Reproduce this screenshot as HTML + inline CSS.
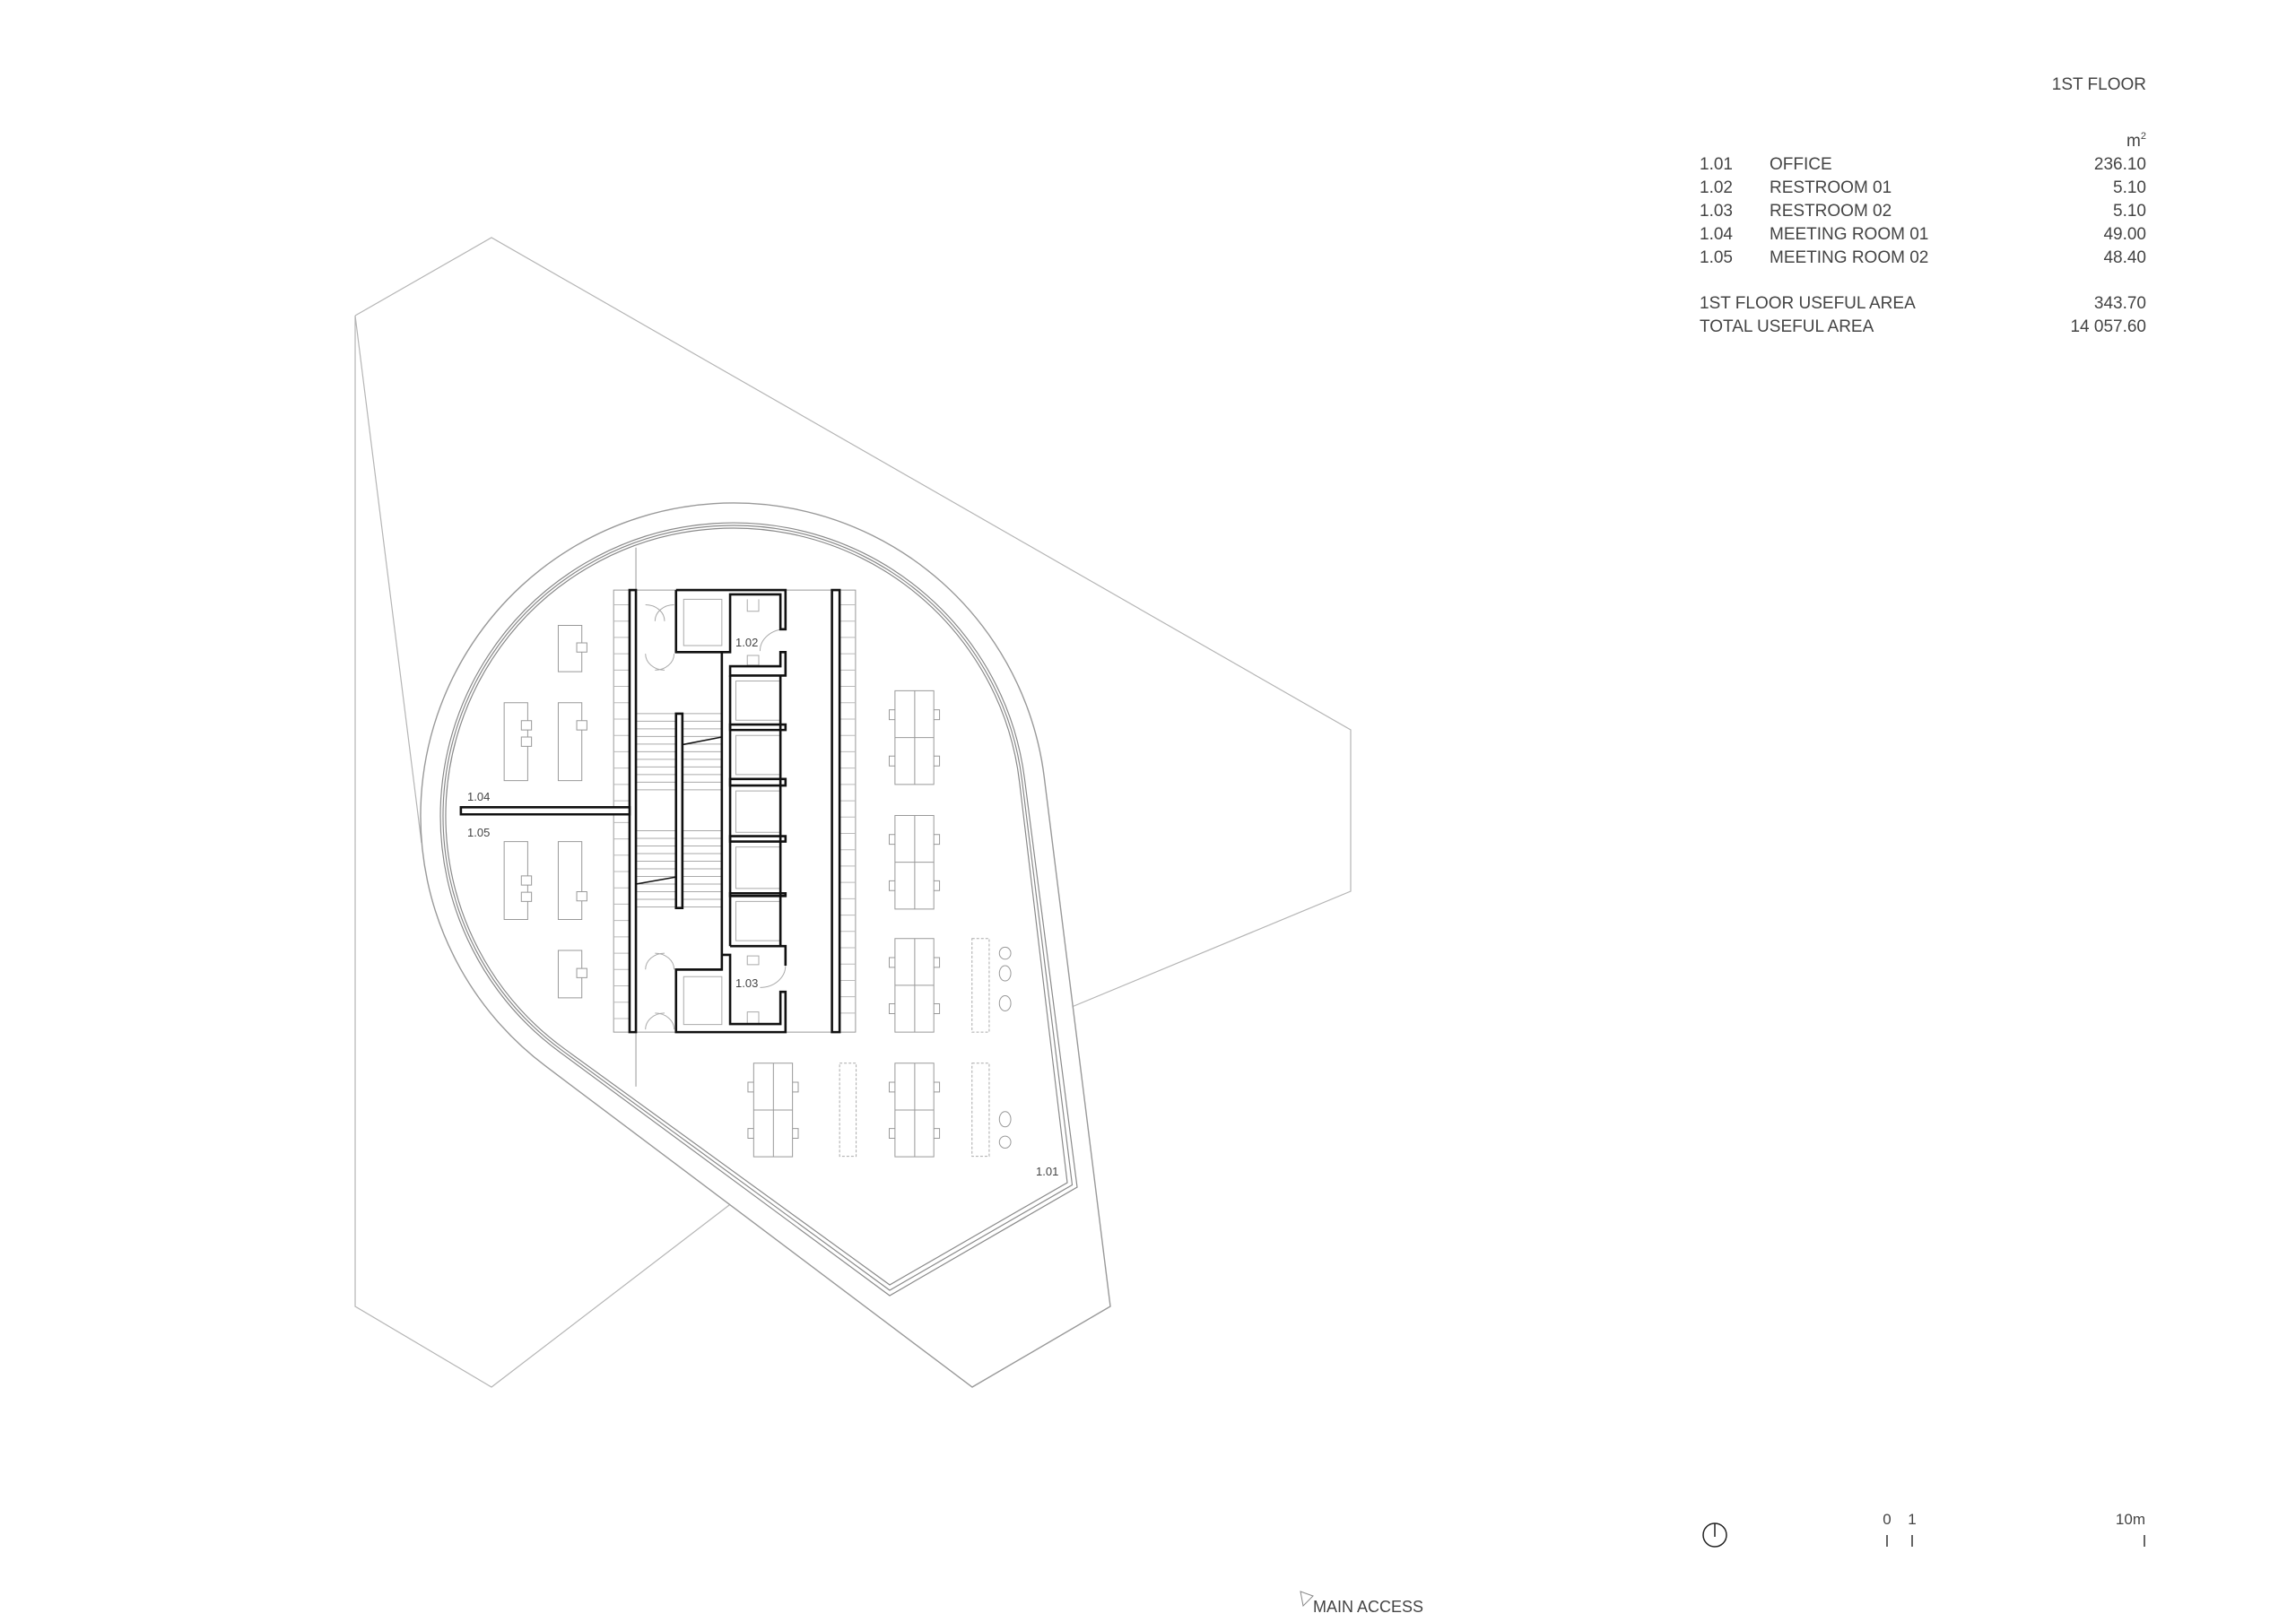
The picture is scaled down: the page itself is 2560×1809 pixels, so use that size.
<!DOCTYPE html>
<html><head><meta charset="utf-8"><style>
html,body{margin:0;padding:0;background:#fff;}
svg{display:block;}
text{font-family:"Liberation Sans",sans-serif;fill:#444;}
.t{font-size:19px;}
</style></head><body>
<svg width="2560" height="1809" viewBox="0 0 2560 1809" xmlns="http://www.w3.org/2000/svg">
<rect width="2560" height="1809" fill="#fff"/>
<!-- background site shape -->
<g stroke="#b5b5b5" stroke-width="1.2" fill="none">
<polyline points="396,352 548,265 1506,814 1506,994 1195,1123"/>
<polyline points="817,1341 548,1547 396,1457 396,352 470,940"/>
</g>
<!-- outer building outline -->
<path d="M608.6,1189.2 A349,349 0 1 1 1164.3,866.9 L1238,1457 L1084,1547 Z" fill="#fff" stroke="#999" stroke-width="1.4"/>
<!-- inner teardrop lines -->
<g fill="none" stroke="#8a8a8a" stroke-width="1.2">
<path d="M623.5,1172.9 A327,327 0 1 1 1142.3,867.9 L1201,1324 L992,1445 Z"/>
<path d="M626.4,1171.3 A324,324 0 1 1 1139.5,870 L1195.5,1321.5 L992,1439 Z"/>
<path d="M629.3,1169.7 A321,321 0 1 1 1136.7,872 L1190,1319 L992,1433 Z"/>
</g>
<!-- interior in zoom coords -->
<g transform="translate(450,550) scale(0.7097,0.6072)" fill="none" stroke-linejoin="miter">
<g stroke="#999" stroke-width="1">
<line x1="365" y1="100" x2="365" y2="1090" vector-effect="non-scaling-stroke"/>
<rect x="330" y="178" width="380" height="812" vector-effect="non-scaling-stroke"/>
</g>
<g stroke="#bbb" stroke-width="1">
<path d="M330,205H355M330,235H355M330,265H355M330,295H355M330,325H355M330,355H355M330,385H355M330,415H355M330,445H355M330,475H355M330,505H355M330,535H355M330,565H355M330,605H355M330,635H355M330,665H355M330,695H355M330,725H355M330,755H355M330,785H355M330,815H355M330,845H355M330,875H355M330,905H355M330,935H355M330,965H355" vector-effect="non-scaling-stroke"/>
<path d="M685,205H710M685,235H710M685,265H710M685,295H710M685,325H710M685,355H710M685,385H710M685,415H710M685,445H710M685,475H710M685,505H710M685,535H710M685,565H710M685,595H710M685,625H710M685,655H710M685,685H710M685,715H710M685,745H710M685,775H710M685,805H710M685,835H710M685,865H710M685,895H710M685,925H710M685,955H710" vector-effect="non-scaling-stroke"/>
</g>
<g stroke="#aaa" stroke-width="1">
<path d="M365,405H500M365,419H500M365,433H500M365,447H500M365,461H500M365,475H500M365,489H500M365,503H500M365,517H500M365,531H500M365,545H500M365,620H500M365,634H500M365,648H500M365,662H500M365,676H500M365,690H500M365,704H500M365,718H500M365,732H500M365,746H500M365,760H500" vector-effect="non-scaling-stroke"/>
<path d="M380,205 A30,30 0 0 1 410,235 M425,205 A30,30 0 0 0 395,235 M380,295 A30,30 0 0 0 410,325 M425,295 A30,30 0 0 1 395,325 M380,875 A30,30 0 0 1 410,845 M425,875 A30,30 0 0 0 395,845 M380,985 A30,30 0 0 1 410,955 M425,985 A30,30 0 0 0 395,955" vector-effect="non-scaling-stroke"/>
<rect x="440" y="195" width="60" height="85" vector-effect="non-scaling-stroke"/>
<rect x="440" y="888" width="60" height="88" vector-effect="non-scaling-stroke"/>
<path d="M540,195v22h18v-22M540,298h18v18h-18z M540,850h18v16h-18z M540,975v-22h18v22 M600,250 A40,40 0 0 0 560,290 M600,868 A40,40 0 0 1 560,908" vector-effect="non-scaling-stroke"/>
<rect x="522" y="345" width="70" height="72" vector-effect="non-scaling-stroke"/>
<rect x="522" y="445" width="70" height="72" vector-effect="non-scaling-stroke"/>
<rect x="522" y="547" width="70" height="76" vector-effect="non-scaling-stroke"/>
<rect x="522" y="650" width="70" height="76" vector-effect="non-scaling-stroke"/>
<rect x="522" y="750" width="70" height="72" vector-effect="non-scaling-stroke"/>
</g>
<g stroke="#111" stroke-width="2.6" fill="#fff">
<rect x="355" y="178" width="10" height="812" vector-effect="non-scaling-stroke"/>
<rect x="673" y="178" width="12" height="812" vector-effect="non-scaling-stroke"/>
<rect x="428" y="405" width="10" height="357" vector-effect="non-scaling-stroke"/>
<path d="M90,577H355V590H90Z" vector-effect="non-scaling-stroke"/>
<path d="M428,178H600V250H592V186H513V292H500V848H513V975H592V916H600V990H428V875H500V848H513" fill="none" vector-effect="non-scaling-stroke"/>
<path d="M428,178V292H500" fill="none" vector-effect="non-scaling-stroke"/>
<path d="M600,292V335H513V318H592V292Z" vector-effect="non-scaling-stroke"/>
<path d="M513,425H600V435H513Z M513,525H600V537H513Z M513,630H600V640H513Z M513,735H600V740H513Z" vector-effect="non-scaling-stroke"/>
<path d="M600,868V832H513" fill="none" vector-effect="non-scaling-stroke"/>
<path d="M513,335V832 M592,335V832" fill="none" vector-effect="non-scaling-stroke"/>
<path d="M428,875H500" fill="none" vector-effect="non-scaling-stroke"/>
<path d="M438,462L500,448 M365,718L428,705" fill="none" stroke-width="1.5" vector-effect="non-scaling-stroke"/>
</g>
<g stroke="#999" stroke-width="1" fill="#fff">
<rect x="243" y="243" width="37" height="85" vector-effect="non-scaling-stroke"/>
<rect x="272" y="275" width="16" height="17" vector-effect="non-scaling-stroke"/>
<rect x="158" y="385" width="37" height="143" vector-effect="non-scaling-stroke"/>
<rect x="185" y="418" width="16" height="17" vector-effect="non-scaling-stroke"/>
<rect x="185" y="448" width="16" height="17" vector-effect="non-scaling-stroke"/>
<rect x="243" y="385" width="37" height="143" vector-effect="non-scaling-stroke"/>
<rect x="272" y="418" width="16" height="17" vector-effect="non-scaling-stroke"/>
<rect x="158" y="640" width="37" height="143" vector-effect="non-scaling-stroke"/>
<rect x="185" y="703" width="16" height="17" vector-effect="non-scaling-stroke"/>
<rect x="185" y="733" width="16" height="17" vector-effect="non-scaling-stroke"/>
<rect x="243" y="640" width="37" height="143" vector-effect="non-scaling-stroke"/>
<rect x="272" y="732" width="16" height="17" vector-effect="non-scaling-stroke"/>
<rect x="243" y="840" width="37" height="87" vector-effect="non-scaling-stroke"/>
<rect x="272" y="873" width="16" height="17" vector-effect="non-scaling-stroke"/>
</g>
<g stroke="#999" stroke-width="1" fill="#fff">
<g id="cl">
<rect x="763" y="398" width="16" height="18" vector-effect="non-scaling-stroke"/>
<rect x="826" y="398" width="16" height="18" vector-effect="non-scaling-stroke"/>
<rect x="763" y="483" width="16" height="18" vector-effect="non-scaling-stroke"/>
<rect x="826" y="483" width="16" height="18" vector-effect="non-scaling-stroke"/>
<rect x="772" y="363" width="61" height="172" vector-effect="non-scaling-stroke"/>
<path d="M803,363V535M772,449H833" vector-effect="non-scaling-stroke"/>
</g>
<use href="#cl" y="229"/>
<use href="#cl" y="455"/>
<use href="#cl" y="684"/>
<use href="#cl" x="-222" y="684"/>
</g>
<g stroke="#aaa" stroke-width="1" stroke-dasharray="3,2" fill="none">
<rect x="893" y="818" width="27" height="172" vector-effect="non-scaling-stroke"/>
<rect x="685" y="1047" width="26" height="171" vector-effect="non-scaling-stroke"/>
<rect x="893" y="1047" width="27" height="171" vector-effect="non-scaling-stroke"/>
</g>
<g stroke="#999" stroke-width="1" fill="none">
<ellipse cx="945" cy="845" rx="9" ry="11" vector-effect="non-scaling-stroke"/>
<ellipse cx="945" cy="882" rx="9" ry="14" vector-effect="non-scaling-stroke"/>
<ellipse cx="945" cy="937" rx="9" ry="14" vector-effect="non-scaling-stroke"/>
<ellipse cx="945" cy="1150" rx="9" ry="14" vector-effect="non-scaling-stroke"/>
<ellipse cx="945" cy="1192" rx="9" ry="11" vector-effect="non-scaling-stroke"/>
</g>
</g>
<g font-size="13">
<text x="521" y="893">1.04</text>
<text x="521" y="933">1.05</text>
<text x="820" y="721">1.02</text>
<text x="820" y="1101">1.03</text>
<text x="1155" y="1311">1.01</text>
</g>
<g class="t">
<text x="2393" y="100" text-anchor="end">1ST FLOOR</text>
<text x="2393" y="163" text-anchor="end">m<tspan font-size="11" dy="-8">2</tspan></text>
<text x="1895" y="189">1.01</text><text x="1973" y="189">OFFICE</text><text x="2393" y="189" text-anchor="end">236.10</text>
<text x="1895" y="215">1.02</text><text x="1973" y="215">RESTROOM 01</text><text x="2393" y="215" text-anchor="end">5.10</text>
<text x="1895" y="241">1.03</text><text x="1973" y="241">RESTROOM 02</text><text x="2393" y="241" text-anchor="end">5.10</text>
<text x="1895" y="267">1.04</text><text x="1973" y="267">MEETING ROOM 01</text><text x="2393" y="267" text-anchor="end">49.00</text>
<text x="1895" y="293">1.05</text><text x="1973" y="293">MEETING ROOM 02</text><text x="2393" y="293" text-anchor="end">48.40</text>
<text x="1895" y="344">1ST FLOOR USEFUL AREA</text><text x="2393" y="344" text-anchor="end">343.70</text>
<text x="1895" y="370">TOTAL USEFUL AREA</text><text x="2393" y="370" text-anchor="end">14 057.60</text>
</g>
<circle cx="1912" cy="1712" r="13" fill="none" stroke="#222" stroke-width="1.5"/>
<line x1="1912" y1="1699" x2="1912" y2="1714" stroke="#222" stroke-width="1.5"/>
<g class="t">
<text x="2104" y="1700" text-anchor="middle" font-size="17">0</text>
<text x="2132" y="1700" text-anchor="middle" font-size="17">1</text>
<text x="2392" y="1700" text-anchor="end" font-size="17">10m</text>
</g>
<g stroke="#333" stroke-width="1.5">
<line x1="2104" y1="1712" x2="2104" y2="1725"/>
<line x1="2132" y1="1712" x2="2132" y2="1725"/>
<line x1="2391" y1="1712" x2="2391" y2="1725"/>
</g>
<polygon points="1450,1775 1464,1780 1453,1791" fill="none" stroke="#888" stroke-width="1"/>
<text x="1464" y="1798" font-size="18">MAIN ACCESS</text>
</svg>
</body></html>
